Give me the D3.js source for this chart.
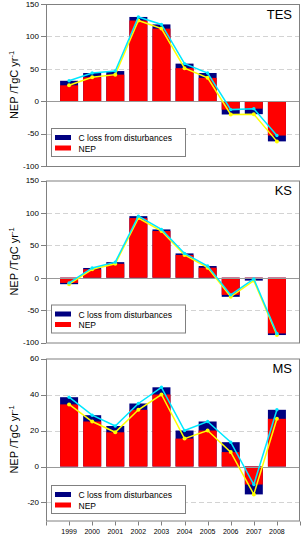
<!DOCTYPE html>
<html>
<head>
<meta charset="utf-8">
<script src="https://cdn.jsdelivr.net/npm/d3@7"></script>
<style>
  body { margin: 0; background: white; }
  svg { display: block; font-family: Arial, "Liberation Sans", sans-serif; }
</style>
</head>
<body>
<div id="chart"></div>
<script>
// data
const years = [1999, 2000, 2001, 2002, 2003, 2004, 2005, 2006, 2007, 2008];

const tesNep   = [24.5, 37, 41, 124.5, 112, 51, 36, -20.5, -20, -62];
const tesCloss = [7, 6.5, 5.5, 5.5, 6.5, 7, 7.5, 7.5, 8.5, 9];

const ksNep   = [-10, 13, 21.5, 92, 72, 35, 15.5, -29.5, -4.5, -88.5];
const ksCloss = [2, 2, 2.5, 3, 2.5, 2.5, 2.5, 3, 2.5, 2.5];

const msNep   = [34.5, 25, 19, 31.5, 40, 15.5, 20, 8, -15.5, 26.5];
const msCloss = [4, 3.5, 3.5, 3.5, 4, 4.5, 5, 5.5, 5.5, 5];

const bigTicks = [-100, -50, 0, 50, 100, 150];
const msTicks = [-20, 0, 20, 40, 60];

const legendLabels = ['C loss from disturbances', 'NEP'];

const W = 301, H = 534;
const left = 46, right = 300;
const panelH = 162;
const barW = 18;

const colNep = '#ff0000', colLoss = '#000080';
const colYellow = '#ffff00', colCyan = '#00e8ff';
const frameCol = '#808080';

const panels = [
  {name: 'TES', nep: tesNep, closs: tesCloss, domain: [-100, 150], ticks: bigTicks, top: 4, legTop: 124.5},
  {name: 'KS', nep: ksNep, closs: ksCloss, domain: [-100, 150], ticks: bigTicks, top: 180.5, legTop: 124.5},
  {name: 'MS', nep: msNep, closs: msCloss, domain: [-30, 60], ticks: msTicks, top: 358.5, legTop: 127, xAxis: true}
];

const svg = d3.select('#chart').append('svg')
  .attr('width', W)
  .attr('height', H);

const x = d3.scaleLinear()
  .domain([1998, 2009])
  .range([left, right]);

panels.forEach(function(p) {
  const y = d3.scaleLinear()
    .domain(p.domain)
    .range([p.top + panelH, p.top]);

  const g = svg.append('g');

  const rows = years.map((yr, i) => ({year: yr, nep: p.nep[i], total: p.nep[i] + p.closs[i]}));

  // dashed grid
  g.selectAll('.grid')
    .data(p.ticks.filter(t => t !== 0 && t !== p.domain[0] && t !== p.domain[1]))
    .enter().append('line')
    .attr('x1', left + 1).attr('x2', right - 1)
    .attr('y1', d => Math.round(y(d)) + 0.5)
    .attr('y2', d => Math.round(y(d)) + 0.5)
    .style('stroke', '#d3d3d3')
    .style('stroke-width', 1)
    .style('stroke-dasharray', '5,3');

  // navy part: between NEP and NEP + C loss
  g.selectAll('.loss')
    .data(rows)
    .enter().append('rect')
    .attr('x', d => x(d.year) - barW / 2)
    .attr('width', barW)
    .attr('y', d => y(Math.max(d.nep, d.total, 0)))
    .attr('height', d => Math.abs(y(Math.max(d.nep, d.total, 0)) - y(Math.min(d.nep, d.total, 0))))
    .style('fill', colLoss);

  // red part: from zero to whichever is nearer zero
  g.selectAll('.nep')
    .data(rows)
    .enter().append('rect')
    .attr('x', d => x(d.year) - barW / 2)
    .attr('width', barW)
    .attr('y', function(d) {
      const v = d.nep >= 0 ? d.nep : d.total;
      return v >= 0 ? y(v) : y(0);
    })
    .attr('height', function(d) {
      const v = d.nep >= 0 ? d.nep : d.total;
      return Math.abs(y(v) - y(0));
    })
    .style('fill', colNep);

  // zero line
  g.append('line')
    .attr('x1', left - 5).attr('x2', right - 0.5)
    .attr('y1', Math.round(y(0)) + 0.5).attr('y2', Math.round(y(0)) + 0.5)
    .style('stroke', '#999')
    .style('stroke-width', 1);

  // lines
  const lineNep = d3.line().x(d => x(d.year)).y(d => y(d.nep));
  const lineTot = d3.line().x(d => x(d.year)).y(d => y(d.total));

  g.append('path')
    .datum(rows)
    .attr('d', lineNep)
    .style('fill', 'none')
    .style('stroke', colYellow)
    .style('stroke-width', 1.5);
  g.selectAll('.ptNep')
    .data(rows)
    .enter().append('circle')
    .attr('cx', d => x(d.year))
    .attr('cy', d => y(d.nep))
    .attr('r', 2)
    .style('fill', colYellow);

  g.append('path')
    .datum(rows)
    .attr('d', lineTot)
    .style('fill', 'none')
    .style('stroke', colCyan)
    .style('stroke-width', 1.5);
  g.selectAll('.ptTot')
    .data(rows)
    .enter().append('circle')
    .attr('cx', d => x(d.year))
    .attr('cy', d => y(d.total))
    .attr('r', 1.7)
    .style('fill', colCyan);

  // frame
  g.append('rect')
    .attr('x', left + 0.5)
    .attr('y', p.top + 0.5)
    .attr('width', right - left - 1)
    .attr('height', panelH)
    .style('fill', 'none')
    .style('stroke', frameCol)
    .style('stroke-width', 1);

  // y ticks + labels
  g.selectAll('.ytick')
    .data(p.ticks)
    .enter().append('line')
    .attr('x1', left - 5).attr('x2', left)
    .attr('y1', d => Math.round(y(d)) + 0.5)
    .attr('y2', d => Math.round(y(d)) + 0.5)
    .style('stroke', frameCol);
  g.selectAll('.ylab')
    .data(p.ticks)
    .enter().append('text')
    .attr('x', 39)
    .attr('y', d => y(d))
    .attr('dy', '0.35em')
    .attr('text-anchor', 'end')
    .attr('font-size', '8px')
    .style('fill', '#000')
    .text(d => d);

  // y title
  const title = g.append('text')
    .attr('transform', 'translate(18,' + (p.top + panelH / 2) + ') rotate(-90)')
    .attr('text-anchor', 'middle')
    .attr('font-size', '11px')
    .style('fill', '#000');
  title.append('tspan').text('NEP /TgC yr');
  title.append('tspan').attr('dy', '-4').attr('font-size', '7.5px').text('-1');

  // panel name
  g.append('text')
    .attr('x', 292)
    .attr('y', p.top + 14.5)
    .attr('text-anchor', 'end')
    .attr('font-size', '13px')
    .style('fill', '#000')
    .text(p.name);

  // legend
  const lx = 51.5, ly = p.top + p.legTop;
  const leg = g.append('g');
  leg.append('rect')
    .attr('x', lx).attr('y', ly)
    .attr('width', 134).attr('height', 28)
    .style('fill', 'white')
    .style('stroke', frameCol)
    .style('stroke-width', 1);
  legendLabels.forEach(function(lbl, i) {
    leg.append('rect')
      .attr('x', lx + 3.5).attr('y', ly + 6.5 + i * 10.5)
      .attr('width', 16).attr('height', 5)
      .style('fill', i === 0 ? colLoss : colNep);
    leg.append('text')
      .attr('x', lx + 27).attr('y', ly + 12.5 + i * 10.5)
      .attr('font-size', '8.5px')
      .style('fill', '#000')
      .text(lbl);
  });

  // x axis on last panel
  if (p.xAxis) {
    const xb = Math.round(p.top + panelH) + 0.5;
    g.selectAll('.xtick')
      .data(d3.range(1998, 2010))
      .enter().append('line')
      .attr('x1', d => Math.round(x(d)) + 0.5)
      .attr('x2', d => Math.round(x(d)) + 0.5)
      .attr('y1', xb).attr('y2', xb + 4)
      .style('stroke', frameCol);
    g.selectAll('.xlab')
      .data(years)
      .enter().append('text')
      .attr('x', d => x(d))
      .attr('y', 533.5)
      .attr('text-anchor', 'middle')
      .attr('font-size', '7px')
      .style('fill', '#000')
      .text(d => d);
  }
});
</script>
</body>
</html>
